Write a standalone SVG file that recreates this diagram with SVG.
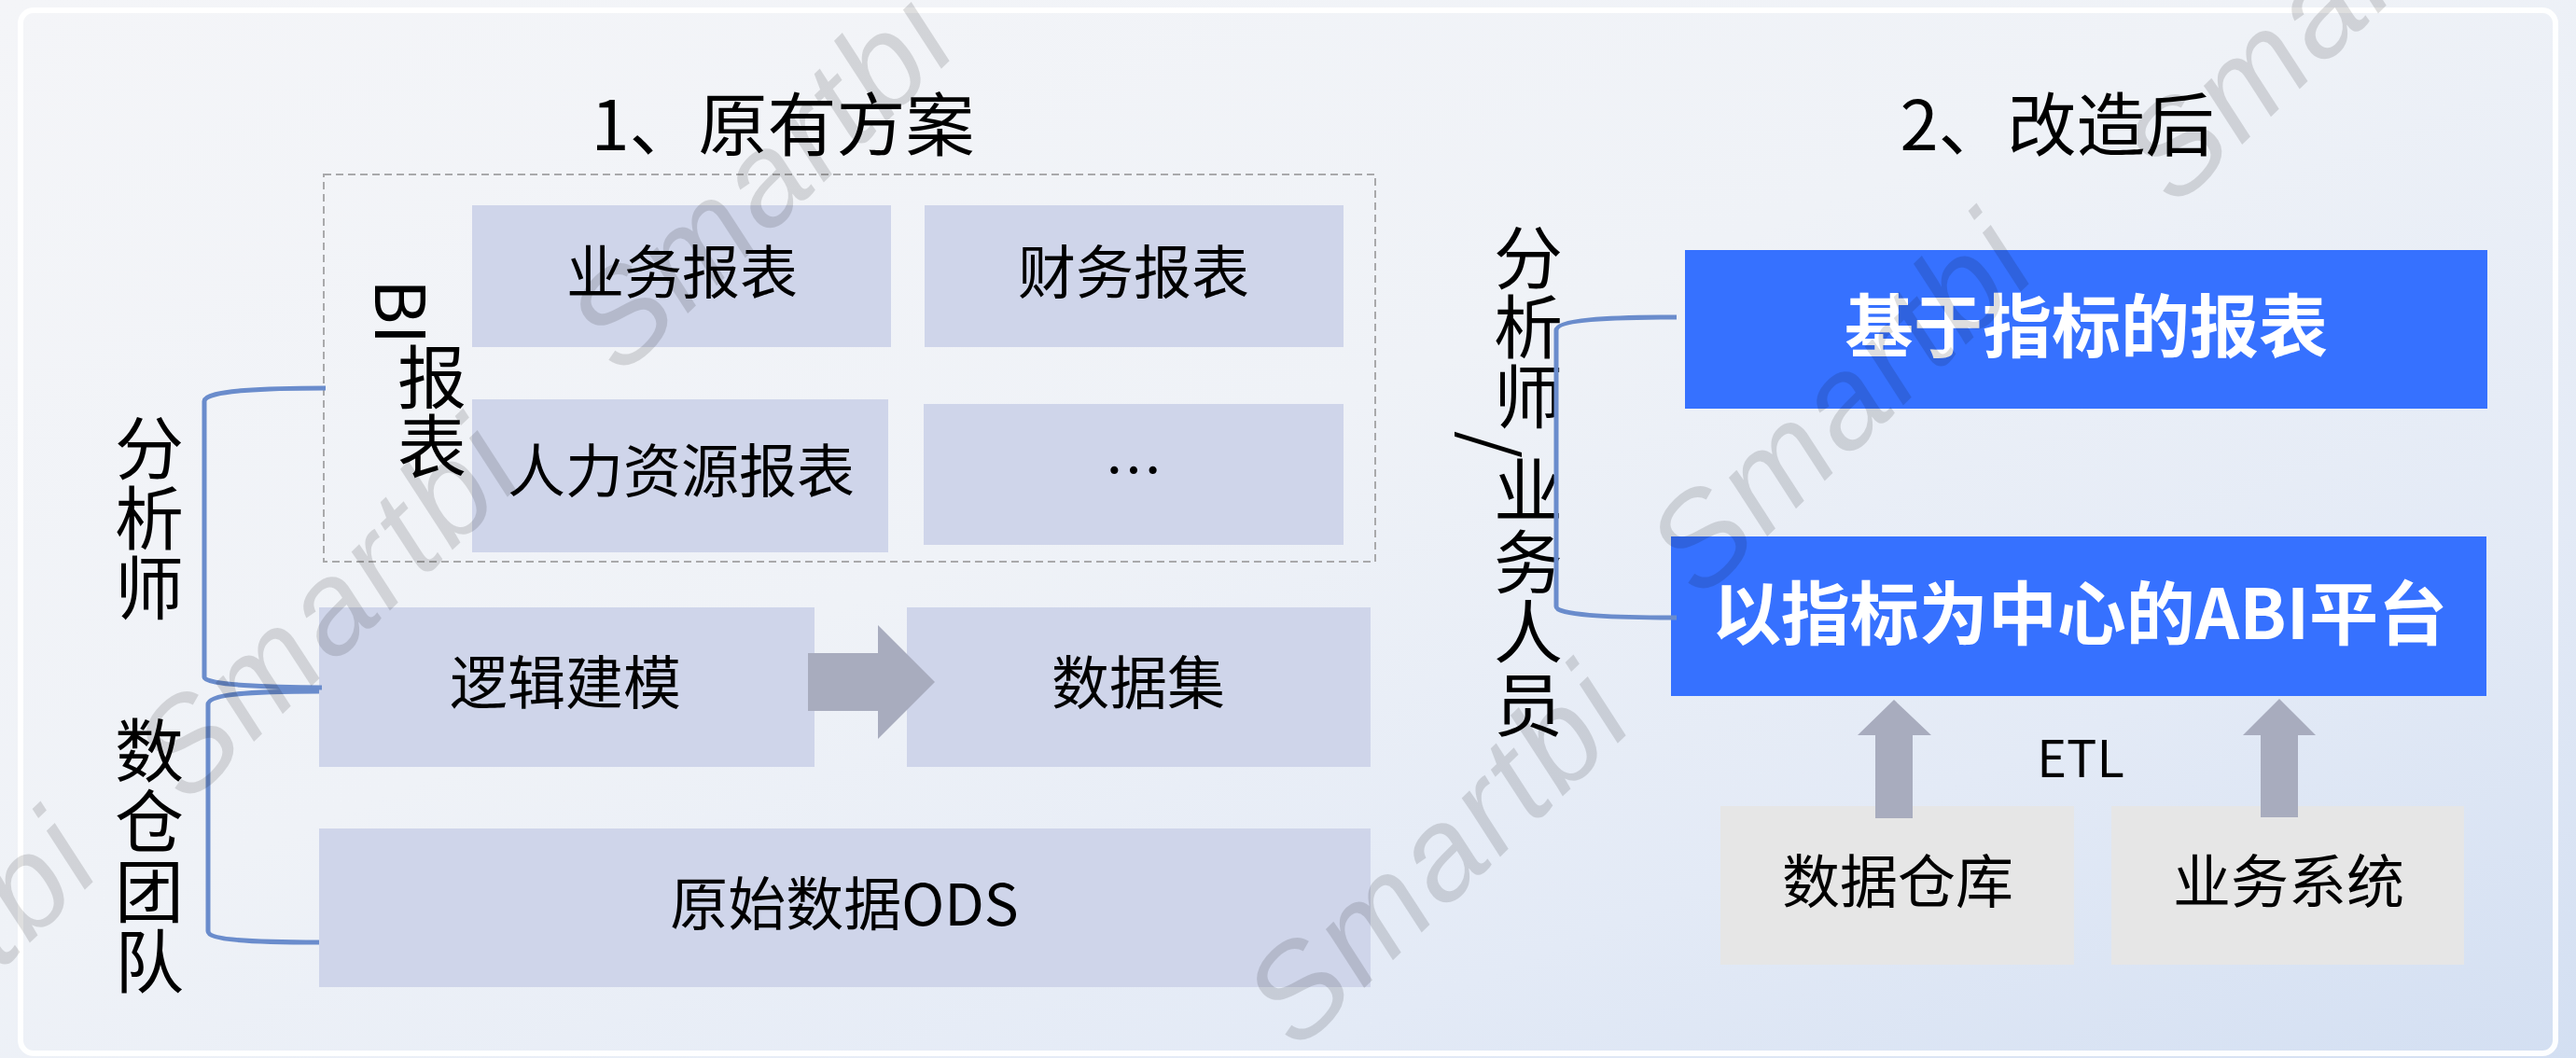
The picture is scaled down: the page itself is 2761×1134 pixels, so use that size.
<svg xmlns="http://www.w3.org/2000/svg" width="2761" height="1134" viewBox="0 0 2761 1134">
<defs>
<linearGradient id="bg" x1="0" y1="0" x2="1" y2="1">
<stop offset="0" stop-color="#f4f5f8"/>
<stop offset="0.45" stop-color="#eff2f7"/>
<stop offset="0.75" stop-color="#e3eaf6"/>
<stop offset="1" stop-color="#d3dff2"/>
</linearGradient>
<style>
.t{font-family:"Noto Sans CJK SC","Noto Sans",sans-serif;fill:#000;}
.lav{fill:#cfd5ea;}
.blue{fill:#3671ff;}
.gray{fill:#e6e6e6;}
.arrow{fill:#a8acbe;}
.br{fill:none;stroke:#6a8ccc;stroke-width:5;stroke-linecap:butt;}
.bt{font-family:"Noto Sans CJK SC","Noto Sans",sans-serif;fill:#fff;font-weight:700;font-size:74px;}
.wm{font-family:"Liberation Sans",Arial,sans-serif;font-style:italic;font-size:140px;letter-spacing:4px;fill:#000;fill-opacity:0.13;}
</style>
</defs>
<rect x="0" y="0" width="2761" height="1134" fill="url(#bg)"/>
<rect x="22" y="11" width="2717" height="1118" rx="14" fill="none" stroke="#ffffff" stroke-width="6" stroke-opacity="0.95"/>

<g id="title-left"><text class="t" x="839" y="161" font-size="74" text-anchor="middle">1、原有方案</text></g>
<g id="title-right"><text class="t" x="2205" y="161" font-size="74" text-anchor="middle">2、改造后</text></g>

<g id="bi-group">
<rect x="347" y="187" width="1127" height="415" fill="none" stroke="#a9a9ab" stroke-width="2" stroke-dasharray="8 5"/>
<text class="t" font-size="74" transform="translate(402,299) rotate(90)">BI</text>
<text class="t" font-size="74" text-anchor="middle"><tspan x="463" y="432">报</tspan><tspan x="463" y="506">表</tspan></text>
</g>

<g id="node-yewubaobiao"><rect class="lav" x="506" y="220" width="449" height="152"/><text class="t" x="731" y="315" font-size="62" text-anchor="middle">业务报表</text></g>
<g id="node-caiwubaobiao"><rect class="lav" x="991" y="220" width="449" height="152"/><text class="t" x="1215" y="315" font-size="62" text-anchor="middle">财务报表</text></g>
<g id="node-renli"><rect class="lav" x="506" y="428" width="446" height="164"/><text class="t" x="730" y="528" font-size="62" text-anchor="middle">人力资源报表</text></g>
<g id="node-more"><rect class="lav" x="990" y="433" width="450" height="151"/><text class="t" x="1215" y="528" font-size="62" text-anchor="middle">…</text></g>
<g id="node-luoji"><rect class="lav" x="342" y="651" width="531" height="171"/><text class="t" x="606" y="755" font-size="62" text-anchor="middle">逻辑建模</text></g>
<g id="node-shujuji"><rect class="lav" x="972" y="651" width="497" height="171"/><text class="t" x="1220" y="755" font-size="62" text-anchor="middle">数据集</text></g>
<g id="node-ods"><rect class="lav" x="342" y="888" width="1127" height="170"/><text class="t" x="905" y="992" font-size="62" text-anchor="middle">原始数据ODS</text></g>

<g id="label-fenxishi"><text class="t" font-size="74" text-anchor="middle"><tspan x="160" y="508">分</tspan><tspan x="160" y="583">析</tspan><tspan x="160" y="658">师</tspan></text></g>
<g id="label-shucang"><text class="t" font-size="74" text-anchor="middle"><tspan x="160" y="832">数</tspan><tspan x="160" y="908">仓</tspan><tspan x="160" y="983">团</tspan><tspan x="160" y="1058">队</tspan></text></g>

<g id="label-users">
<text class="t" font-size="74" text-anchor="middle"><tspan x="1638" y="304">分</tspan><tspan x="1638" y="378">析</tspan><tspan x="1638" y="453">师</tspan></text>
<text class="t" font-size="74" transform="translate(1572,462) rotate(90)">/</text>
<text class="t" font-size="74" text-anchor="middle"><tspan x="1638" y="553">业</tspan><tspan x="1638" y="630">务</tspan><tspan x="1638" y="705">人</tspan><tspan x="1638" y="783">员</tspan></text>
</g>

<g id="node-zhibiaobaobiao"><rect class="blue" x="1806" y="268" width="860" height="170"/><text class="bt" x="2236" y="377" text-anchor="middle">基于指标的报表</text></g>
<g id="node-abi"><rect class="blue" x="1791" y="575" width="874" height="171"/><text class="bt" x="2229" y="685" text-anchor="middle">以指标为中心的ABI平台</text></g>
<g id="node-cangku"><rect class="gray" x="1844" y="864" width="379" height="170"/><text class="t" x="2034" y="968" font-size="62" text-anchor="middle">数据仓库</text></g>
<g id="node-yewuxitong"><rect class="gray" x="2263" y="864" width="378" height="170"/><text class="t" x="2453" y="968" font-size="62" text-anchor="middle">业务系统</text></g>
<g id="label-etl"><text class="t" x="2230" y="833" font-size="54" text-anchor="middle">ETL</text></g>

<g id="connectors">
<path class="br" d="M349,416 C290,416 219,418 219,430 L219,726 C219,734 290,737 345,737"/>
<path class="br" d="M342,741 C265,741 223,744 223,755 L223,998 C223,1007 265,1010 342,1010"/>
<path class="br" d="M1797,340 C1720,340 1668,343 1668,354 L1668,650 C1668,659 1720,662 1797,662"/>
<polygon class="arrow" points="866,700 941,700 941,670 1002,731 941,792 941,762 866,762"/>
<polygon class="arrow" points="2010,877 2010,788 1991,788 2030,750 2070,788 2050,788 2050,877"/>
<polygon class="arrow" points="2423,876 2423,788 2404,788 2443,749 2482,788 2463,788 2463,876"/>
</g>

<g id="watermarks">
<text class="wm" text-anchor="middle" transform="translate(384,687) rotate(-44)">Smartbi</text>
<text class="wm" text-anchor="middle" transform="translate(849,228) rotate(-44)">Smartbi</text>
<text class="wm" text-anchor="middle" transform="translate(-69,1108) rotate(-44)">Smartbi</text>
<text class="wm" text-anchor="middle" transform="translate(1574,951) rotate(-44)">Smartbi</text>
<text class="wm" text-anchor="middle" transform="translate(2006,467) rotate(-44)">Smartbi</text>
<text class="wm" text-anchor="middle" transform="translate(2515,47) rotate(-44)">Smartbi</text>
</g>
</svg>
